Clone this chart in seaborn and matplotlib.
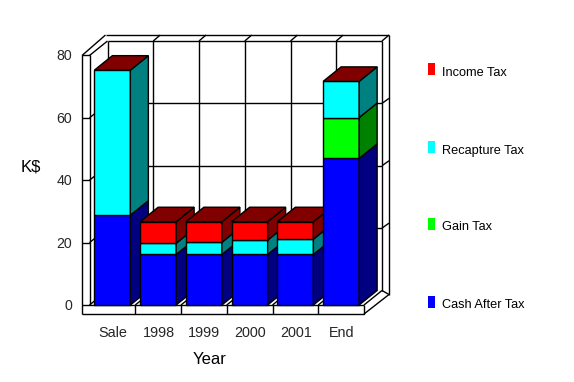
import matplotlib
matplotlib.use("Agg")
import matplotlib.pyplot as plt
import seaborn as sns
from matplotlib.patches import Polygon, Rectangle

# ===== DATA =====
years = ["Sale", "1998", "1999", "2000", "2001", "End"]
cash_after_tax = [28.8, 16.2, 16.2, 16.2, 16.2, 47.0]
gain_tax = [0, 0, 0, 0, 0, 13.1]
recapture_tax = [46.5, 3.6, 3.9, 4.6, 4.9, 11.6]
income_tax = [0, 6.9, 6.6, 5.9, 5.6, 0]

series_names = ["Cash After Tax", "Gain Tax", "Recapture Tax", "Income Tax"]
series_values = [cash_after_tax, gain_tax, recapture_tax, income_tax]
front_colors = ["#0000ff", "#00ff00", "#00ffff", "#ff0000"]
side_colors = ["#000080", "#008000", "#008080", "#800000"]
y_ticks = [0, 20, 40, 60, 80]

W, H = 574, 382
sns.set_style("white")
plt.rcParams["font.family"] = ["Liberation Sans", "DejaVu Sans"]

fig = plt.figure(figsize=(W / 100, H / 100), dpi=100)
# axes = the front plane of the 3D box
left, right, y_zero, y_top = 89.5, 364.0, 305.0, 55.5
ax = fig.add_axes([left / W, 1 - y_zero / H, (right - left) / W, (y_zero - y_top) / H])
ax.set_xlim(-0.5, 5.5)
ax.set_ylim(0, 80)
ax.axis("off")

px_x = 6 / (right - left)          # data units per pixel, x
px_y = 80 / (y_zero - y_top)       # data units per pixel, y
DX, DY = 18 * px_x, 14.5 * px_y    # bar depth
LW = 1.0


def line(xs, ys, z=1):
    ax.plot(xs, ys, color="black", lw=LW, clip_on=False, zorder=z, solid_capstyle="butt")


# ===== BOX =====
x0, x1 = -0.5, 5.5
ox = -7.5 * px_x                    # outer wall offset
oy = -9 * px_y
top = 80
bx0, bx1 = x0 + DX, x1 + DX         # back wall
by0, by1 = DY, 80 + DY
ox1 = bx1 + 7 * px_x
oy_top = by1 + 6 * px_y

line([x0 + ox, x0 + ox], [oy, top])
line([x0, x0], [0, top])
line([x0 + ox, x0], [top, top])
line([x0 + ox, x1, x1], [oy, oy, 0])
line([x0 + ox, x1], [0, 0])
line([x0 + ox, bx0 - 2 * px_x], [top, oy_top])
line([bx0 - 2 * px_x, ox1], [oy_top, oy_top])
line([x0, bx0], [top, by1])
line([bx0, bx0], [by0, by1])
line([bx0, bx1], [by1, by1])
line([bx1, bx1], [by0, by1])
line([bx1, ox1], [by1, oy_top])
line([ox1, ox1], [by0 - 4 * px_y, oy_top])
line([x1, bx1], [0, by0])
line([x1, ox1], [oy, by0 - 4 * px_y])
line([bx1, ox1], [by0, by0 - 4 * px_y])
line([x0, bx0], [0, by0])

# wall grid, ticks and the floor/top lines at category edges
for t in y_ticks[1:-1]:
    line([x0 + ox, x0], [t, t])
    line([x0, bx0], [t, t + DY])
    line([bx0, bx1], [t + DY, t + DY])
    line([bx1, ox1], [t + DY, t + DY + 5 * px_y])
for i in range(1, 6):
    edge = i - 0.5
    line([edge, edge], [oy, 0])
    line([edge, edge + DX], [0, DY])
    line([edge + DX, edge + DX], [DY, by1])
    line([edge + DX, edge + DX + 7 * px_x], [by1, oy_top])

# ===== BARS =====
bottom = [0.0] * len(years)
bar_width = 36 / 45.75
for values, fc, sc in zip(series_values, front_colors, side_colors):
    before = len(ax.patches)
    sns.barplot(x=years, y=values, bottom=bottom, color=fc, saturation=1, width=bar_width,
                edgecolor="black", linewidth=LW, ax=ax)
    bars = list(ax.patches[before:])
    for i, patch in enumerate(bars):
        patch.set_clip_on(False)
        patch.set_zorder(10 + i * 2)
        patch.set_visible(values[i] > 0)
        if values[i] <= 0:
            continue
        # side face comes from the same bar rectangle
        xr = patch.get_x() + patch.get_width()
        y_lo, y_hi = patch.get_y(), patch.get_y() + patch.get_height()
        ax.add_patch(Polygon([(xr, y_lo), (xr + DX, y_lo + DY), (xr + DX, y_hi + DY), (xr, y_hi)],
                             closed=True, fc=sc, ec="black", lw=LW, clip_on=False, zorder=10 + i * 2))
    bottom = [b + v for b, v in zip(bottom, values)]

# top faces, always dark red
for i, total in enumerate(bottom):
    xl = i - bar_width / 2
    xr = i + bar_width / 2
    ax.add_patch(Polygon([(xl, total), (xl + DX, total + DY), (xr + DX, total + DY), (xr, total)],
                         closed=True, fc="#800000", ec="black", lw=LW, clip_on=False, zorder=11 + i * 2))


# ===== TEXT =====
def label(px, py, s, size=9.6, ha="center"):
    fig.text(px / W, 1 - py / H, s, fontsize=size, ha=ha, va="center", color="black")


for t in y_ticks:
    ax.text(x0 + ox - 10 * px_x, t - 0.3, str(t), fontsize=10.2, ha="right", va="center", clip_on=False)
for i, y in enumerate(years):
    ax.text(i + 0.01, oy - 19 * px_y, y, fontsize=10.4, ha="center", va="center", clip_on=False)
label(210, 360, "Year", 12)
label(31, 167, "K$", 12)

# legend by hand, spread out like the original
legend_y = [302, 224, 147, 69]
for name, fc, py in zip(series_names, front_colors, legend_y):
    fig.add_artist(Rectangle((428 / W, 1 - (py + 6) / H), 7 / W, 12 / H, transform=fig.transFigure,
                             fc=fc, ec="none"))
    label(442, py + 3.5, name, 9.2, ha="left")

fig.savefig("out.png", dpi=100, facecolor="white")
